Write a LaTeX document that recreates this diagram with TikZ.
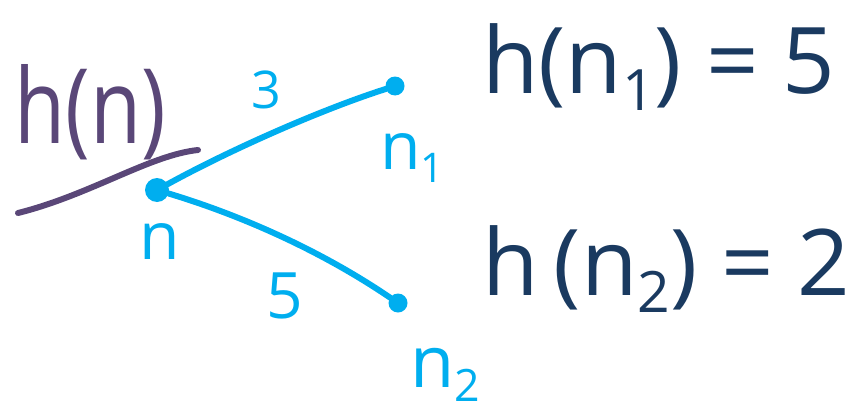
\documentclass[tikz,border=0pt]{standalone}
\usepackage{fontspec}
\setmainfont{Open Sans}
\definecolor{skyb}{RGB}{0,174,239}
\definecolor{navy}{RGB}{26,58,96}
\definecolor{purp}{RGB}{90,71,120}
\newcommand\lowsub[1]{\raisebox{-0.35ex}{\scalebox{0.62}{#1}}}
\tikzset{
  dot/.style={circle,fill=skyb,inner sep=0pt,minimum size=#1},
  edge/.style={draw=skyb,line width=6pt,line cap=round},
  bluelab/.style={text=skyb,inner sep=0pt},
  eqlab/.style={text=navy,inner sep=0pt,anchor=base west,font=\fontsize{92}{100}\selectfont},
}
\begin{document}
\begin{tikzpicture}[x=1pt,y=-1pt]
\useasboundingbox (0,0) rectangle (866,412);
\node[dot=24pt] (n) at (157,190) {};
\node[dot=19pt] (n1) at (395,86) {};
\node[dot=19pt] (n2) at (398,303) {};
\draw[edge] (n) .. controls (230,150) and (320,110) .. (n1);
\draw[edge] (n) .. controls (240,215) and (320,250) .. (n2);
\node[bluelab,font=\fontsize{52}{56}\selectfont] (w1) at (266,90) {3};
\node[bluelab,font=\fontsize{64}{68}\selectfont] (w2) at (285,296) {5};
\node[bluelab,font=\fontsize{66}{70}\selectfont] (ln) at (160,242) {n};
\node[bluelab,font=\fontsize{66}{70}\selectfont] (ln1) at (412,158) {n\lowsub{1}};
\node[bluelab,font=\fontsize{72}{76}\selectfont] (ln2) at (445,375) {n\lowsub{2}};
\node[eqlab] (e1) at (482,93) {h(n\lowsub{1}) = 5};
\node[eqlab] (e2) at (482,295) {h\,(n\lowsub{2}) = 2};
\node[text=purp,inner sep=0pt,font=\fontsize{104}{110}\selectfont,xscale=0.8] (hn) at (90,112) {h(n)};
\coordinate (u1) at (18,213);
\coordinate (u2) at (198,150);
\draw[purp,line width=6pt,line cap=round] (u1) .. controls (90,195) and (150,155) .. (u2);
\end{tikzpicture}
\end{document}
